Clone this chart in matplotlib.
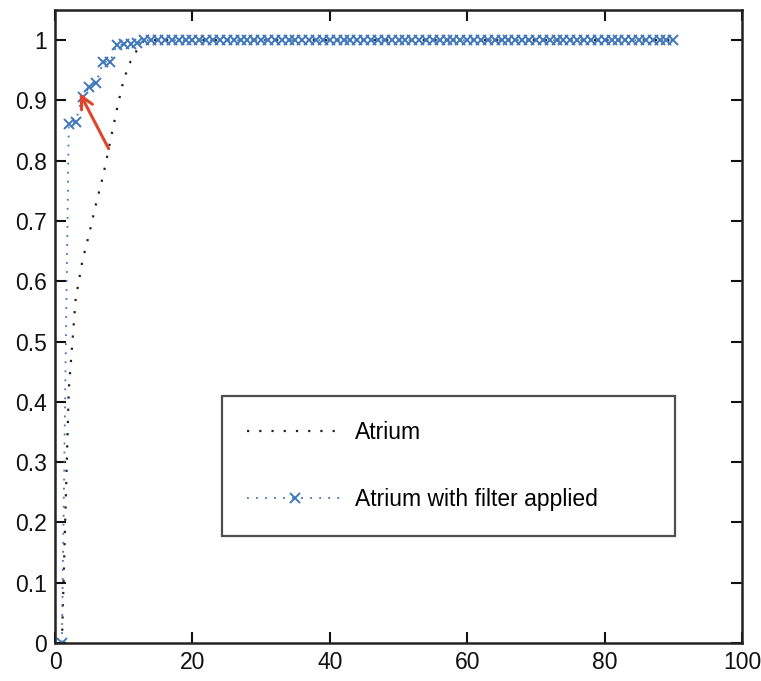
import matplotlib.pyplot as plt

# --- data ---
x_atrium = list(range(1, 91))
y_atrium = [0.0, 0.42, 0.57, 0.635, 0.68, 0.73, 0.775, 0.83, 0.885,
            0.935, 0.965, 0.985] + [1.0] * 78

x_filter = list(range(1, 91))
y_filter = [0.0, 0.861, 0.865, 0.906, 0.922, 0.929, 0.964, 0.964,
            0.992, 0.993, 0.993, 0.995] + [1.0] * 78

x_ticks = [0, 20, 40, 60, 80, 100]
y_ticks = [0, 0.1, 0.2, 0.3, 0.4, 0.5, 0.6, 0.7, 0.8, 0.9, 1]
y_ticklabels = ['0', '0.1', '0.2', '0.3', '0.4', '0.5', '0.6', '0.7',
                '0.8', '0.9', '1']

plt.rcParams['font.family'] = ['Liberation Sans', 'DejaVu Sans']

BLUE = '#4177bb'
RED = '#e0452b'

fig = plt.figure(figsize=(7.61, 6.81), dpi=100, facecolor='white')
ax = fig.add_axes([0.0723, 0.0558, 0.9028, 0.9295])

ax.plot(x_atrium, y_atrium, color='#222222', lw=1.6,
        linestyle=(0, (1, 4.5)), label='Atrium')
ax.plot(x_filter, y_filter, color=BLUE, lw=1.3, linestyle=(0, (1, 4)),
        marker='x', markersize=7, markeredgewidth=1.4,
        label='Atrium with filter applied')

ax.annotate('', xy=(3.6, 0.912), xytext=(7.8, 0.82),
            arrowprops=dict(arrowstyle='->', color=RED, lw=2.2,
                            mutation_scale=22, shrinkA=0, shrinkB=0))

ax.set_xlim(0, 100)
ax.set_ylim(0, 1.05)
ax.set_xticks(x_ticks)
ax.set_yticks(y_ticks)
ax.set_yticklabels(y_ticklabels)
ax.tick_params(direction='in', length=8, width=1.5, top=True, right=True,
               labelsize=16.5, pad=6, colors='#111111')
for s in ax.spines.values():
    s.set_linewidth(1.8)
    s.set_color('#222222')

leg = ax.legend(loc='lower left', bbox_to_anchor=(0.243, 0.169, 0.659, 0.231),
                mode='expand', fontsize=16.5, frameon=True, fancybox=False,
                handlelength=4.2, handletextpad=0.5, labelspacing=1.9,
                borderpad=1.1, borderaxespad=0)
leg.get_frame().set_edgecolor('#222222')
leg.get_frame().set_linewidth(1.6)

plt.savefig('out.png', dpi=100, facecolor='white')
plt.close()
